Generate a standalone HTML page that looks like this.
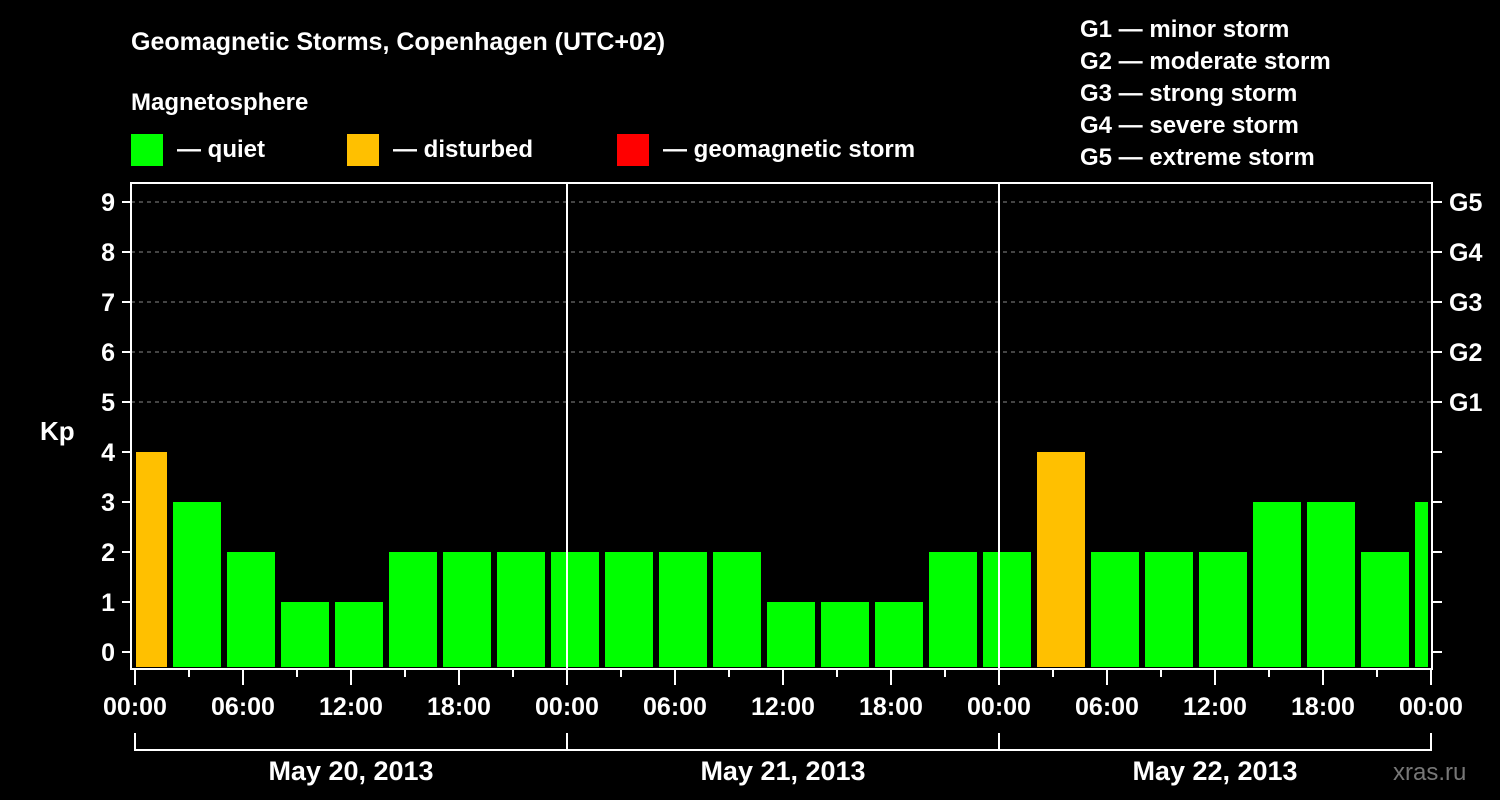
<!DOCTYPE html>
<html><head><meta charset="utf-8"><style>
html,body{margin:0;padding:0;background:#000;width:1500px;height:800px;overflow:hidden}
svg text{font-family:"Liberation Sans",Arial,sans-serif;font-weight:bold;fill:#fff}
</style></head><body>
<svg id="c" width="1500" height="800" xmlns="http://www.w3.org/2000/svg">
<rect width="1500" height="800" fill="#000"/>
<text x="131" y="50" font-size="25">Geomagnetic Storms, Copenhagen (UTC+02)</text>
<text x="131" y="110" font-size="24">Magnetosphere</text>
<g><rect x="131" y="134" width="32" height="32" fill="#00ff00"/><text x="177" y="157" font-size="24">— quiet</text></g>
<g><rect x="347" y="134" width="32" height="32" fill="#ffc000"/><text x="393" y="157" font-size="24">— disturbed</text></g>
<g><rect x="617" y="134" width="32" height="32" fill="#ff0000"/><text x="663" y="157" font-size="24">— geomagnetic storm</text></g>
<g font-size="24">
<text x="1080" y="37">G1 — minor storm</text>
<text x="1080" y="69">G2 — moderate storm</text>
<text x="1080" y="101">G3 — strong storm</text>
<text x="1080" y="133">G4 — severe storm</text>
<text x="1080" y="165">G5 — extreme storm</text>
</g>
<text x="40" y="440" font-size="26">Kp</text>
<text x="1393" y="780" font-size="24" fill="#777" style="fill:#777;font-weight:normal">xras.ru</text>
<g id="grid"></g><g id="bars"></g><g id="axes"></g>
</svg>
<script>
const kpValues=[4,3,2,1,1,2,2,2,2,2,2,2,1,1,1,2,2,4,2,2,2,3,3,2,3];
const yTicks=[0,1,2,3,4,5,6,7,8,9];
const gLabels=["G1","G2","G3","G4","G5"];
const xTickLabels=["00:00","06:00","12:00","18:00","00:00","06:00","12:00","18:00","00:00","06:00","12:00","18:00","00:00"];
const dayLabels=["May 20, 2013","May 21, 2013","May 22, 2013"];
const NS="http://www.w3.org/2000/svg";
const L=131,R=1432,T=183,B=669,X0=135,HPX=18;
const y=v=>652-50*v;
const xh=h=>X0+h*HPX;
function mk(tag,attrs,parent,txt){const e=document.createElementNS(NS,tag);for(const k in attrs)e.setAttribute(k,attrs[k]);if(txt!==undefined)e.textContent=txt;parent.appendChild(e);return e;}
const grid=document.getElementById('grid'),bars=document.getElementById('bars'),axes=document.getElementById('axes');
yTicks.forEach(v=>{
 if(v>=5){const g=mk('line',{x1:L,x2:R,y1:y(v),y2:y(v),stroke:'#888','stroke-dasharray':'4,4','stroke-width':1},grid);
 
 }
 const t=mk('line',{x1:122,x2:L,y1:y(v),y2:y(v),stroke:'#fff','stroke-width':2},axes);
 
 
 const t2=mk('line',{x1:R,x2:R+10,y1:y(v),y2:y(v),stroke:'#fff','stroke-width':2},axes);
 
 
 const lb=mk('text',{x:115,y:y(v)+9,'font-size':25,'text-anchor':'end'},axes,String(v));
 
 
});
gLabels.forEach((g,i)=>{const lb=mk('text',{x:1449,y:y(5+i)+9,'font-size':25},axes,g);
 
 });
kpValues.forEach((v,k)=>{
 let x1=xh(3*k-1)+2,x2=x1+48;
 x1=Math.max(x1,136);x2=Math.min(x2,1428);
 const r=mk('rect',{x:x1,y:y(v),width:x2-x1,height:667-y(v),fill:v>=5?'#ff0000':(v>=4?'#ffc000':'#00ff00')},bars);
 
 
});
mk('rect',{x:L,y:T,width:R-L,height:B-T,fill:'none',stroke:'#fff','stroke-width':2},axes);
[1,2].forEach(d=>{const l=mk('line',{x1:xh(24*d),x2:xh(24*d),y1:T,y2:B,stroke:'#fff','stroke-width':2},axes);
 
 });
for(let h=0;h<=72;h+=3){const major=h%6===0;
 const t=mk('line',{x1:xh(h),x2:xh(h),y1:B,y2:major?685:677,stroke:'#fff','stroke-width':2},axes);
 
 }
xTickLabels.forEach((s,i)=>{const lb=mk('text',{x:xh(6*i),y:715,'font-size':25,'text-anchor':'middle'},axes,s);
 
 });
dayLabels.forEach((s,i)=>{
 const p=mk('path',{d:`M${xh(24*i)},733 V750 H${xh(24*(i+1))} V733`,fill:'none',stroke:'#fff','stroke-width':2},axes);
 
 
 const lb=mk('text',{x:xh(24*i+12),y:780,'font-size':27,'text-anchor':'middle'},axes,s);
 
 
});
</script>
</body></html>
